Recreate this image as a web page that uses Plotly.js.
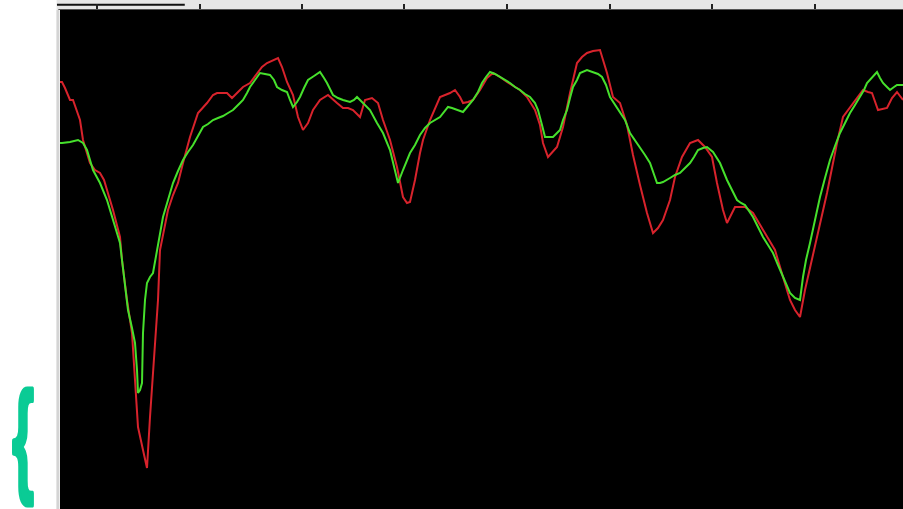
<!DOCTYPE html>
<html>
<head>
<meta charset="utf-8">
<script src="https://cdn.plot.ly/plotly-3.0.1.min.js"></script>
<style>html,body{margin:0;padding:0;background:#fff;}#chart{width:903px;height:509px;}</style>
</head>
<body>
<div id="chart"></div>
<script>
// Sample positions (time) and amplitudes
const redT = [0,2,5,10,13,18,20,23,30,35,40,44,47,53,60,62,67,72,75,78,83,87,90,95,98,100,104,108,113,118,123,130,138,147,153,157,163,167,172,177,183,190,197,202,207,213,218,222,227,233,238,243,248,253,260,268,273,277,283,288,293,300,305,312,318,323,330,337,343,347,350,355,360,363,370,380,390,395,400,403,408,413,420,427,433,440,447,453,460,467,475,480,483,488,493,497,503,510,517,522,527,533,540,543,547,553,557,560,567,573,580,587,593,598,603,610,615,622,630,638,645,652,657,663,667,671,675,680,685,693,700,707,715,723,730,735,740,745,752,760,767,772,777,783,788,793,798,803,808,812,818,822,827,832,837,840,843];
const redV = [427,427,421,409,409,394,389,369,346,339,336,329,319,299,272,249,209,176,129,82,59,41,92,159,209,259,281,299,314,326,346,372,396,406,414,416,416,416,411,416,422,426,436,442,446,449,451,442,427,414,392,379,386,399,409,414,409,406,401,401,399,392,409,411,406,389,369,342,312,306,307,329,356,369,389,412,416,419,412,406,407,409,419,431,436,432,427,423,419,412,399,384,366,352,357,362,382,416,446,452,456,458,459,449,436,412,408,406,384,354,324,296,276,281,289,309,332,352,366,369,362,352,326,299,286,294,302,302,302,296,284,272,259,232,209,199,192,219,249,286,316,341,366,392,399,406,413,419,417,416,399,400,401,411,417,413,409];

const greenT = [0,2,10,18,23,27,33,40,47,53,60,62,65,68,72,75,77,78,80,82,83,85,87,90,93,97,100,103,108,113,118,123,128,133,138,143,148,153,158,163,168,173,180,183,187,190,195,200,205,210,214,217,222,227,230,233,237,240,244,248,254,260,264,267,273,278,283,290,294,297,300,303,310,317,323,330,335,338,343,350,355,360,365,370,380,388,392,397,403,408,413,418,422,426,430,435,440,445,450,455,460,465,470,475,478,482,485,489,493,497,500,503,507,510,513,517,520,527,533,538,542,546,550,555,560,565,570,575,580,585,590,595,597,600,603,610,615,620,625,630,634,638,643,647,653,660,667,672,677,681,685,693,698,703,708,713,718,723,727,730,735,740,743,746,750,755,760,765,770,775,780,785,790,795,800,804,807,812,817,820,823,827,830,834,837,840,843];
const greenV = [366,366,367,369,366,359,339,326,309,289,266,249,224,199,181,166,139,116,119,126,176,209,226,232,236,259,276,292,309,326,338,349,357,364,373,382,385,389,391,393,396,399,406,409,416,422,429,436,435,434,429,422,419,417,409,402,407,412,421,429,433,437,431,426,414,411,409,407,409,412,409,406,399,386,376,359,339,326,339,356,364,374,381,386,392,402,401,399,397,403,409,417,426,432,437,435,432,429,426,422,419,415,412,406,399,384,372,372,372,376,379,389,399,411,422,429,436,439,437,435,432,424,412,404,396,389,376,369,362,354,346,332,326,326,327,331,334,336,341,346,352,359,361,362,357,346,329,319,309,306,304,292,282,272,264,256,244,232,222,216,211,209,232,249,266,289,312,331,349,363,376,386,396,404,412,419,426,431,437,431,426,422,419,422,424,424,424];

const tickPos = [37,140,242,344,447,550,652,755];

const traces = [
  {x: redT, y: redV, type: 'scatter', mode: 'lines', line: {color: '#d8232c', width: 2}, hoverinfo: 'skip'},
  {x: greenT, y: greenV, type: 'scatter', mode: 'lines', line: {color: '#46e02c', width: 2}, hoverinfo: 'skip'}
];

const layout = {
  width: 903, height: 509,
  margin: {l: 60, r: 0, t: 10, b: 0, pad: 0},
  paper_bgcolor: '#ffffff',
  plot_bgcolor: '#000000',
  showlegend: false,
  xaxis: {
    range: [0, 843], side: 'top', showgrid: false, zeroline: false,
    showticklabels: false, ticks: 'outside', ticklen: 5, tickwidth: 2, tickcolor: '#222',
    tickmode: 'array', tickvals: tickPos, showline: false, fixedrange: true
  },
  yaxis: {
    range: [0, 499], showgrid: false, zeroline: false, showticklabels: false,
    ticks: '', showline: false, fixedrange: true
  },
  shapes: [
    {type: 'rect', xref: 'paper', yref: 'paper', x0: -0.004, x1: 1, y0: 1, y1: 1.022,
     fillcolor: '#e6e6e6', line: {width: 0}, layer: 'below'},
    {type: 'line', xref: 'paper', yref: 'paper', x0: -0.0036, x1: 0.148, y0: 1.0105, y1: 1.0105,
     line: {color: '#111', width: 2}, layer: 'below'},
    {type: 'line', xref: 'paper', yref: 'paper', x0: -0.002, x1: 1, y0: 1.001, y1: 1.001,
     line: {color: '#555', width: 1}},
    {type: 'line', xref: 'paper', yref: 'paper', x0: -0.0025, x1: -0.0025, y0: 0, y1: 1.0,
     line: {color: '#d4d4d4', width: 3}}
  ],
  annotations: [
    {xref: 'paper', yref: 'paper', x: -0.0435, y: 0.146, text: '<b>{</b>', showarrow: false,
     xanchor: 'center', yanchor: 'middle',
     font: {family: 'Liberation Sans', size: 124, color: '#0acb95'}}
  ]
};

Plotly.newPlot('chart', traces, layout, {displayModeBar: false, staticPlot: true}).then(function () {
  const t = document.querySelector('#chart .annotation-text');
  if (!t) return;
  t.setAttribute('stroke', '#0acb95');
  t.setAttribute('stroke-width', '5');
  t.setAttribute('stroke-linejoin', 'round');
  const bb = t.getBBox();
  const cx = bb.x + bb.width / 2;
  const cy = bb.y + bb.height / 2;
  t.setAttribute('transform', 'translate(' + cx + ',' + cy + ') scale(0.45,1) translate(' + (-cx) + ',' + (-cy) + ')');
});
</script>
</body>
</html>
